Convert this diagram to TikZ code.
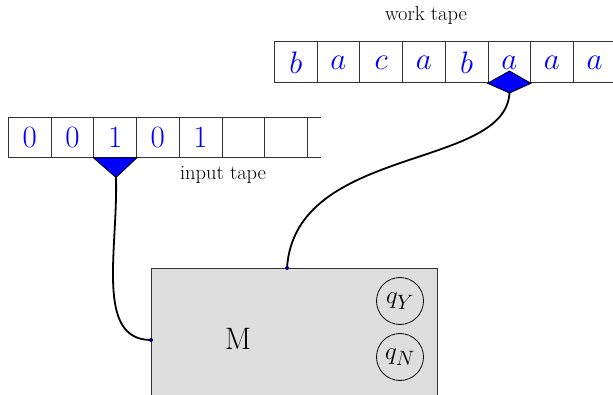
\documentclass[tikz,border=0pt]{standalone}
\usepackage{graphicx}
\usepackage{tikz}
\begin{document}
\begin{tikzpicture}[x=1pt,y=-1pt,
  cellbox/.style={draw=black!80,line width=0.8pt,minimum width=42.7pt,minimum height=41pt,inner sep=0pt,text=blue,font=\fontsize{31}{36}\selectfont},
  lbl/.style={text=black,font=\fontsize{20.5}{24}\selectfont},
  conn/.style={line width=1.8pt,black},
  statenode/.style={circle,draw=black,line width=0.8pt,minimum size=47pt,inner sep=0pt,font=\fontsize{24.88}{28}\selectfont},
  dot/.style={circle,fill=blue!40!black,inner sep=0pt,minimum size=4pt}]
\useasboundingbox (0,0) rectangle (613,395);
% work tape
\foreach \s [count=\i from 0] in {b,a,c,a,b,a,a,a}{
  \node[cellbox,anchor=north west,font=\fontsize{24.88}{30}\selectfont] (w\i) at ({274+42.7*\i},41.5) {\scalebox{1.25}{$\s$}};
}
\node[lbl] (wlabel) at (426,15) {work tape};
% input tape
\foreach \s [count=\i from 0] in {0,0,1,0,1,{},{}}{
  \node[cellbox,minimum height=40pt,anchor=north west] (in\i) at ({8+42.7*\i},117) {\s};
}
\draw[draw=black!80,line width=0.8pt] (in6.north east) -- ++(13,0) coordinate (inendt);
\draw[draw=black!80,line width=0.8pt] (in6.south east) -- ++(13,0) coordinate (inendb);
\node[lbl] (ilabel) at (223,175) {input tape};
% heads
\coordinate (ihead) at (116,177.5);
\filldraw[fill=blue,draw=black,line width=0.8pt] (in2.south west) -- (in2.south east) -- (ihead) -- cycle;
\coordinate (whead) at (509.5,93);
\filldraw[fill=blue,draw=black,line width=0.8pt] (w5.south west) -- (509.5,71) -- (w5.south east) -- (whead) -- cycle;
% machine
\node[draw=black!80,fill=black!13,line width=0.8pt,minimum width=286pt,minimum height=160pt,anchor=north west,inner sep=0pt] (box) at (151,268) {};
\node[font=\fontsize{31}{36}\selectfont] (M) at (238,339) {M};
\node[statenode] (qY) at (400,301) {$q_Y$};
\node[statenode] (qN) at (400,357) {$q_N$};
\coordinate (bl) at (151,340);
\coordinate (bt) at (287,268);
% connectors
\draw[conn] (ihead) .. controls (118,250) and (95,340) .. (bl);
\draw[conn] (whead) .. controls (505,170) and (295,145) .. (bt);
\node[dot] (d1) at (bl) {};
\node[dot] (d2) at (bt) {};
\end{tikzpicture}
\end{document}
